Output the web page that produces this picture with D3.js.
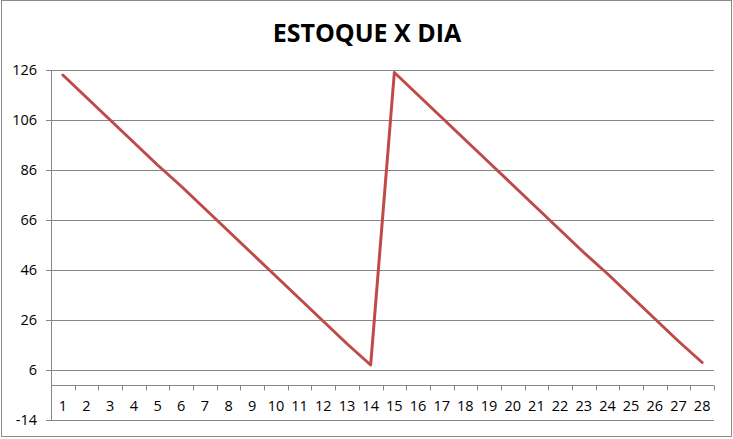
<!DOCTYPE html>
<html>
<head>
<meta charset="utf-8">
<script src="https://cdn.jsdelivr.net/npm/d3@7"></script>
<style>
  body { margin: 0; background: #fff; }
  text { font-family: "Open Sans", "DejaVu Sans", sans-serif; fill: #000; }
</style>
</head>
<body>
<svg id="chart"></svg>
<script>
var width = 733, height = 439

// data
var dias = d3.range(1, 29)
var estoque = [124, 115, 106, 97, 88, 79.5, 70.5, 61.5, 52.5, 43.5, 34.5, 25.5, 16.5, 8,
               125, 116, 107, 98, 89, 80, 71, 62, 53, 44.5, 35.5, 26.5, 17.5, 9]
var yTicks = [-14, 6, 26, 46, 66, 86, 106, 126]
var titulo = "ESTOQUE X DIA"

var svg = d3.select("#chart")
    .attr("width", width)
    .attr("height", height)

svg.append("rect")
    .attr("x", 1.5).attr("y", 0.5)
    .attr("width", 730).attr("height", 436)
    .attr("fill", "#fff")
    .attr("stroke", "#8a8a8a")

var plotL = 51, plotR = 714, plotT = 70, plotB = 420

var x = d3.scaleBand()
    .domain(dias)
    .range([plotL, plotR])
var y = d3.scaleLinear()
    .domain([-14, 126])
    .range([plotB, plotT])

var grid = "#868686"

// horizontal gridlines + small outer ticks
svg.append("g")
    .selectAll("line")
    .data(yTicks)
    .enter()
    .append("line")
        .attr("x1", plotL - 5).attr("x2", plotR)
        .attr("y1", d => Math.round(y(d)) + 0.5)
        .attr("y2", d => Math.round(y(d)) + 0.5)
        .attr("stroke", grid)

// y axis line
svg.append("line")
    .attr("x1", plotL + 0.5).attr("x2", plotL + 0.5)
    .attr("y1", y(126)).attr("y2", y(-14))
    .attr("stroke", grid)

svg.append("g")
    .selectAll("text")
    .data(yTicks)
    .enter()
    .append("text")
        .attr("x", 37)
        .attr("y", d => y(d) + 5)
        .attr("text-anchor", "end")
        .style("font-size", "14.5px")
        .text(d => d)

// category axis crossing at 0
var y0 = Math.round(y(0)) + 0.5
svg.append("line")
    .attr("x1", plotL).attr("x2", plotR)
    .attr("y1", y0).attr("y2", y0)
    .attr("stroke", grid)

svg.append("g")
    .selectAll("line")
    .data(dias.concat([null]))
    .enter()
    .append("line")
        .attr("x1", (d, i) => Math.round(plotL + i * x.step()) + 0.5)
        .attr("x2", (d, i) => Math.round(plotL + i * x.step()) + 0.5)
        .attr("y1", y0).attr("y2", y0 + 5)
        .attr("stroke", grid)

svg.append("g")
    .selectAll("text")
    .data(dias)
    .enter()
    .append("text")
        .attr("x", d => x(d) + x.bandwidth() / 2)
        .attr("y", 411)
        .attr("text-anchor", "middle")
        .style("font-size", "14.5px")
        .text(d => d)

// series line
var line = d3.line()
    .x((d, i) => x(dias[i]) + x.bandwidth() / 2)
    .y(d => y(d))

svg.append("path")
    .datum(estoque)
    .attr("d", line)
    .attr("fill", "none")
    .attr("stroke", "#BE4B48")
    .attr("stroke-width", 3)
    .attr("stroke-linejoin", "round")
    .attr("stroke-linecap", "round")

// title
svg.append("text")
    .attr("x", 367)
    .attr("y", 42)
    .attr("text-anchor", "middle")
    .style("font-size", "25px")
    .style("font-weight", "bold")
    .text(titulo)
</script>
</body>
</html>
